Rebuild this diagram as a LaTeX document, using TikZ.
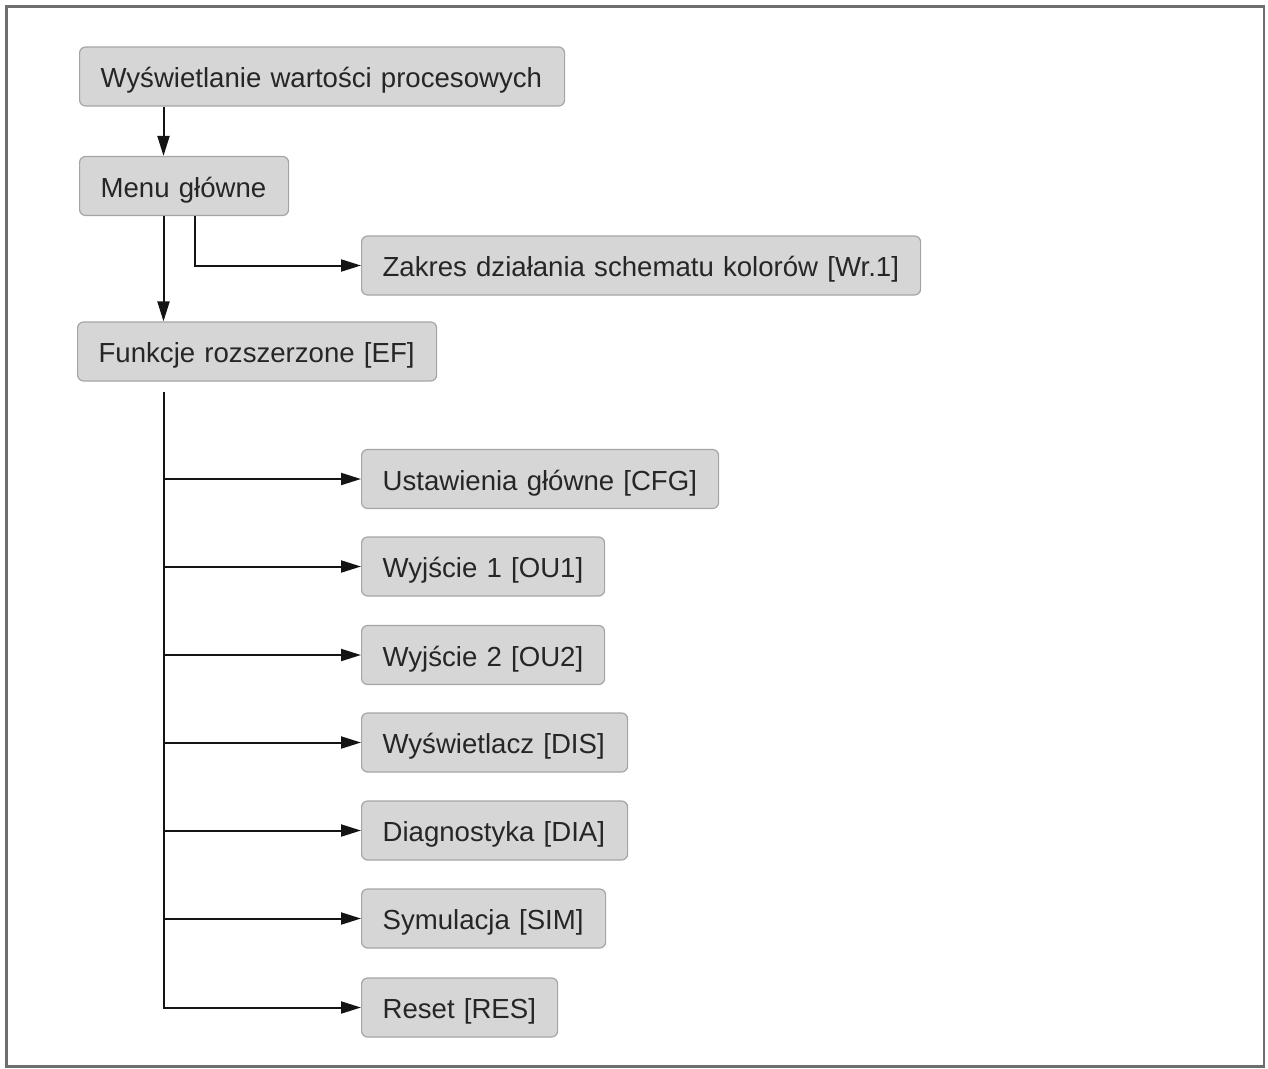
\documentclass[tikz,border=0pt]{standalone}
\usepackage{fontspec}
\setmainfont{Liberation Sans}
\usetikzlibrary{arrows.meta}
\definecolor{boxfill}{RGB}{214,214,214}
\definecolor{boxdraw}{RGB}{165,165,165}
\definecolor{framec}{RGB}{110,110,110}
\definecolor{textc}{RGB}{38,38,38}
\definecolor{linec}{RGB}{20,20,20}
\tikzset{
  menubox/.style={draw=boxdraw, fill=boxfill, rounded corners=6pt, line width=1.2pt,
    anchor=west, minimum height=59pt, inner xsep=21pt, inner ysep=0pt, align=left,
    text height=22.8pt, text depth=0pt,
    text=textc, font=\fontsize{27.6}{33}\selectfont},
  conn/.style={draw=linec, line width=2pt},
  arr/.style={conn, -{Triangle[length=20pt,width=12pt]}},
}
\begin{document}
\begin{tikzpicture}[x=1pt,y=-1pt]
\useasboundingbox (0,0) rectangle (1268,1068);
\draw[framec, line width=2.2pt] (6.5,6.5) rectangle (1264,1066.5);
\coordinate (trunk) at (163.5,0);
\coordinate (side) at (194.5,0);
\node[menubox, text width=443pt] (n1) at (79,76.5) {Wyświetlanie wartości procesowych};
\node[menubox, text width=167pt] (n2) at (79,186) {Menu główne};
\node[menubox, text width=517pt] (n3) at (361,265.5) {Zakres działania schematu kolorów [Wr.1]};
\node[menubox, text width=317pt] (n4) at (77,351.5) {Funkcje rozszerzone [EF]};
\node[menubox, text width=315pt] (n5) at (361,479) {Ustawienia główne [CFG]};
\node[menubox, text width=201pt] (n6) at (361,566.5) {Wyjście 1 [OU1]};
\node[menubox, text width=201pt] (n7) at (361,655) {Wyjście 2 [OU2]};
\node[menubox, text width=224pt] (n8) at (361,742.5) {Wyświetlacz [DIS]};
\node[menubox, text width=224pt] (n9) at (361,830.5) {Diagnostyka [DIA]};
\node[menubox, text width=202pt] (n10) at (361,918.5) {Symulacja [SIM]};
\node[menubox, text width=154pt] (n11) at (361,1007.5) {Reset [RES]};
\draw[arr] (n1.south -| trunk) -- (n2.north -| trunk);
\draw[arr] (n2.south -| trunk) -- (n4.north -| trunk);
\draw[arr] (n2.south -| side) |- (n3.west);
\draw[arr] ([yshift=-10pt]n4.south -| trunk) |- (n11.west);
\foreach \n in {n5,n6,n7,n8,n9,n10}{
  \draw[arr] (\n.west -| trunk) -- (\n.west);
}
\end{tikzpicture}
\end{document}
